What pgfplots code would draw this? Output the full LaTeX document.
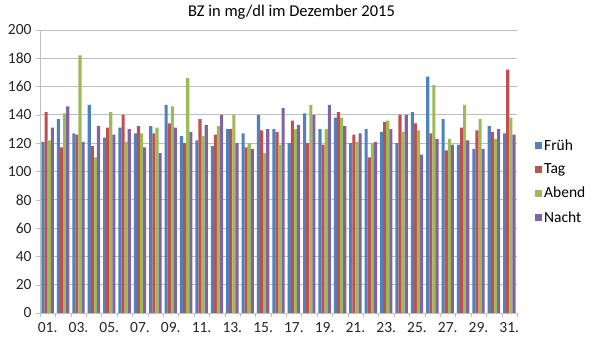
\documentclass[border=0pt]{standalone}
\usepackage{fontspec}
\setmainfont{Carlito}
\usepackage{pgfplots}
\usepackage{pgfplotstable}
\pgfplotsset{compat=1.18}
\definecolor{cF}{HTML}{4F81BD}
\definecolor{cT}{HTML}{C0504D}
\definecolor{cA}{HTML}{9BBB59}
\definecolor{cN}{HTML}{8064A2}
\definecolor{gridg}{HTML}{BFBFBF}
\pgfplotstableread{
day F T A N
1 121 142 122 131
2 137 117 141 146
3 127 126 182 121
4 147 118 110 132
5 124 131 142 126
6 131 140 121 130
7 127 132 127 117
8 132 127 131 113
9 147 134 146 131
10 125 120 166 128
11 122 137 125 133
12 118 126 132 140
13 130 130 140 120
14 127 117 120 116
15 140 129 113 130
16 130 128 119 145
17 120 136 130 133
18 141 120 147 140
19 130 119 130 147
20 138 142 138 132
21 120 126 121 127
22 130 110 120 121
23 128 135 136 130
24 120 140 128 140
25 142 134 129 112
26 167 127 161 123
27 137 115 123 119
28 119 131 147 122
29 116 129 137 116
30 132 128 123 130
31 127 172 138 126
}\datatable
\begin{document}
\begin{tikzpicture}
\begin{axis}[
  scale only axis,
  width=477pt, height=283pt,
  anchor=south west, at={(0,0)},
  ybar=0pt, bar width=3.1pt,
  xmin=0.5, xmax=31.5,
  ymin=0, ymax=200,
  ytick={0,20,...,200},
  xtick={1,3,...,31},
  xticklabels={01.,03.,05.,07.,09.,11.,13.,15.,17.,19.,21.,23.,25.,27.,29.,31.},
  minor xtick={0.5,1.5,...,31.5},
  major x tick style={draw=none},
  minor tick length=4pt,
  tick align=outside,
  tick style={gridg},
  ymajorgrids, grid style={gridg, line width=0.9pt},
  axis lines*=left,
  axis line style={gridg, line width=0.9pt},
  major y tick style={gridg},
  major tick length=4pt,
  tick label style={font=\fontsize{15.5}{18}\selectfont, text=black!85},
  /pgf/number format/assume math mode=true,
  xticklabel style={yshift=-2pt},
  yticklabel style={xshift=-1pt},
  title={BZ in mg/dl im Dezember 2015},
  title style={font=\fontsize{16.5}{19}\selectfont, yshift=1pt, xshift=13pt},
  legend style={draw=none, fill=none, at={(rel axis cs:1,0.465)}, anchor=west, xshift=18pt,
    font=\fontsize{15.5}{18}\selectfont, row sep=8pt, inner sep=0pt},
  legend cell align=left,
  legend image code/.code={\fill[#1] (0pt,-3.5pt) rectangle (7pt,3.5pt);},
  every axis plot/.append style={draw=none},
]
\addplot[fill=cF] table[x=day,y=F] {\datatable};
\addplot[fill=cT] table[x=day,y=T] {\datatable};
\addplot[fill=cA] table[x=day,y=A] {\datatable};
\addplot[fill=cN] table[x=day,y=N] {\datatable};
\legend{Früh,Tag,Abend,Nacht}
\end{axis}
\pgfresetboundingbox
\path (-40pt,-34pt) rectangle (556pt,313pt);
\end{tikzpicture}
\end{document}
